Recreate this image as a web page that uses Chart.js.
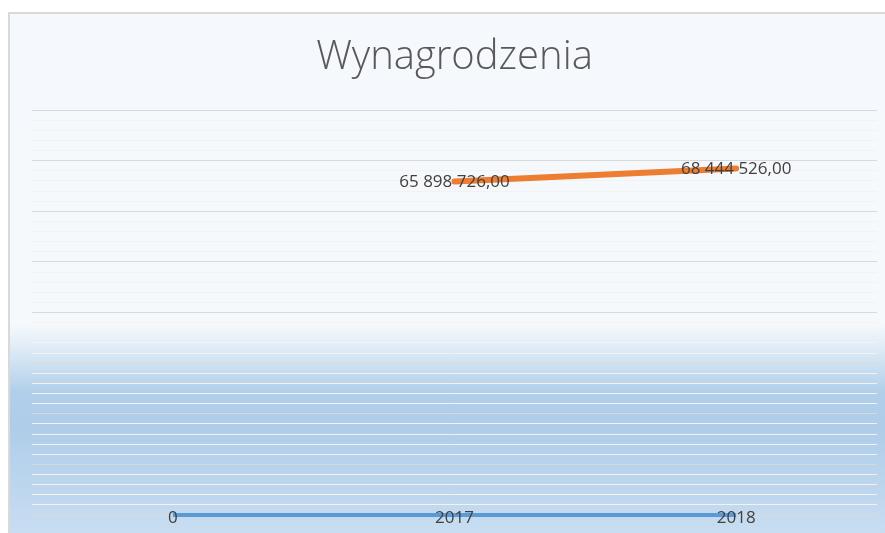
<!DOCTYPE html>
<html>
<head>
<meta charset="utf-8">
<script src="https://cdn.jsdelivr.net/npm/chart.js@4/dist/chart.umd.min.js"></script>
<style>
    html, body { margin: 0; padding: 0; background: #ffffff; }
    #wrap { width: 885px; height: 533px; }
</style>
</head>
<body>
<div id="wrap"><canvas id="chart" width="885" height="533"></canvas></div>
<script>
// Chart data
const categories = ['1', '2', '3'];
const yearValues = [0, 2017, 2018];
const salaryValues = [null, 65898726, 68444526];

// Y axis range
const yMin = 0;
const yMax = 80000000;
const yMajorStep = 10000000;
const yMinorStep = 2000000;

/**
 * Polish number format: "65 898 726,00"
 */
function formatPl(value) {
    const parts = value.toFixed(2).split('.');
    return parts[0].replace(/\B(?=(\d{3})+(?!\d))/g, ' ') + ',' + parts[1];
}

// Background: gradient fill plus grey frame on top / left
const backgroundPlugin = {
    id: 'background',
    beforeDraw(chart) {
        const ctx = chart.ctx;
        ctx.save();
        ctx.fillStyle = '#ffffff';
        ctx.fillRect(0, 0, chart.width, chart.height);

        const grad = ctx.createLinearGradient(0, 12, 0, chart.height);
        grad.addColorStop(0, '#f5f8fc');
        grad.addColorStop(0.6, '#f5f9fc');
        grad.addColorStop(0.645, '#dfebf6');
        grad.addColorStop(0.73, '#b1cfea');
        grad.addColorStop(0.8, '#afcde9');
        grad.addColorStop(1, '#c8ddf1');
        ctx.fillStyle = grad;
        ctx.fillRect(8, 12, chart.width - 8, chart.height - 12);

        ctx.strokeStyle = '#d9d9d9';
        ctx.lineWidth = 2;
        ctx.beginPath();
        ctx.moveTo(9, chart.height);
        ctx.lineTo(9, 13);
        ctx.lineTo(chart.width, 13);
        ctx.stroke();
        ctx.restore();
    }
};

// Data labels centred on every point
const dataLabelPlugin = {
    id: 'dataLabels',
    afterDatasetsDraw(chart) {
        const ctx = chart.ctx;
        ctx.save();
        ctx.font = '17px "Open Sans", sans-serif';
        ctx.fillStyle = '#404040';
        ctx.textAlign = 'center';
        ctx.textBaseline = 'middle';
        chart.data.datasets.forEach((ds, i) => {
            const meta = chart.getDatasetMeta(i);
            meta.data.forEach((pt, j) => {
                const v = ds.data[j];
                if (v === null || v === undefined) return;
                ctx.fillText(ds.labelFormat(v), pt.x, pt.y + ds.labelShift);
            });
        });
        ctx.restore();
    }
};

const ctx = document.getElementById('chart').getContext('2d');
new Chart(ctx, {
    type: 'line',
    data: {
        labels: categories,
        datasets: [
            {
                label: 'Rok',
                data: yearValues,
                borderColor: '#5b9bd5',
                borderWidth: 4,
                pointRadius: 0,
                tension: 0,
                clip: false,
                labelFormat: v => String(v),
                labelShift: 3
            },
            {
                label: 'Wynagrodzenia',
                data: salaryValues,
                borderColor: '#ed7d31',
                borderWidth: 6,
                borderCapStyle: 'round',
                pointRadius: 0,
                tension: 0,
                clip: false,
                labelFormat: formatPl,
                labelShift: 1
            }
        ]
    },
    options: {
        responsive: false,
        animation: false,
        layout: {
            padding: { top: 12, left: 32, right: 8, bottom: 18 }
        },
        plugins: {
            legend: { display: false },
            tooltip: { enabled: false },
            title: {
                display: true,
                text: 'Wynagrodzenia',
                color: '#595959',
                font: { family: '"Open Sans", sans-serif', size: 40, weight: '300', lineHeight: 1.2 },
                padding: { top: 22, bottom: 28 }
            }
        },
        scales: {
            x: {
                display: false,
                offset: true
            },
            y: {
                min: yMin,
                max: yMax,
                border: { display: false },
                ticks: { display: false, stepSize: yMinorStep },
                grid: {
                    drawTicks: false,
                    lineWidth: 1,
                    color: c => (c.tick.value % yMajorStep === 0 ? '#d9d9d9' : '#f2f2f2')
                }
            }
        }
    },
    plugins: [backgroundPlugin, dataLabelPlugin]
});
</script>
</body>
</html>
